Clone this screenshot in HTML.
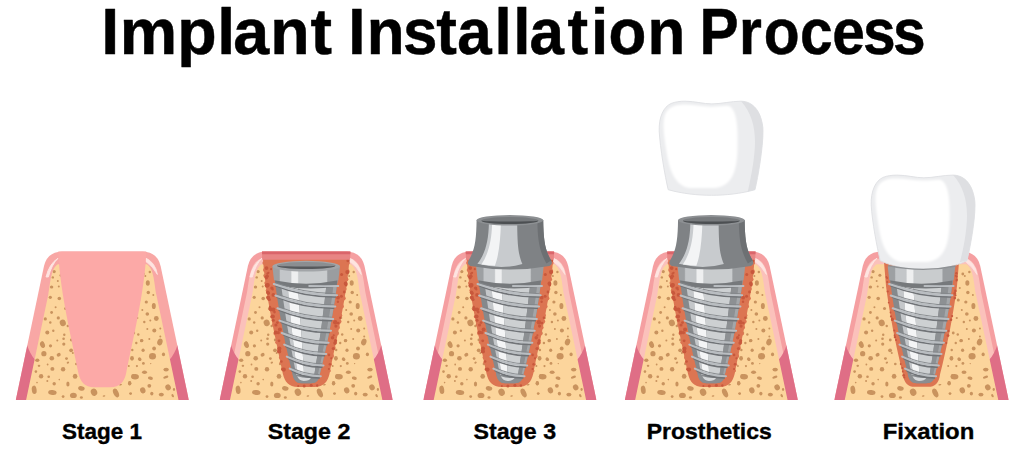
<!DOCTYPE html>
<html lang="en">
<head>
<meta charset="utf-8">
<title>Implant Installation Process</title>
<style>
  html, body { margin: 0; padding: 0; background: #ffffff; }
  body { width: 1024px; height: 451px; overflow: hidden; font-family: "Liberation Sans", sans-serif; }
  svg { display: block; }
  .title text { font-family: "Liberation Sans", sans-serif; font-weight: 700; font-size: 65.2px; fill: #000; stroke: #000; stroke-width: 0.5px; stroke-linejoin: round; }
  .label text { font-family: "Liberation Sans", sans-serif; font-weight: 700; font-size: 22.5px; fill: #000; stroke: #000; stroke-width: 0.35px; stroke-linejoin: round; }
</style>
</head>
<body>
<svg width="1024" height="451" viewBox="0 0 1024 451" role="img" aria-label="Implant Installation Process: Stage 1, Stage 2, Stage 3, Prosthetics, Fixation">
<rect width="1024" height="451" fill="#ffffff"/>

<defs>
  <filter id="soft" x="-10%" y="-10%" width="120%" height="120%"><feGaussianBlur stdDeviation="1.1"/></filter>
  <linearGradient id="gCollar" x1="0" x2="1" y1="0" y2="0">
    <stop offset="0" stop-color="#9da0a3"/>
    <stop offset="0.10" stop-color="#9da0a3"/>
    <stop offset="0.12" stop-color="#c3c6c9"/>
    <stop offset="0.27" stop-color="#c3c6c9"/>
    <stop offset="0.29" stop-color="#eeeff0"/>
    <stop offset="0.37" stop-color="#eeeff0"/>
    <stop offset="0.39" stop-color="#c9ccce"/>
    <stop offset="0.80" stop-color="#c9ccce"/>
    <stop offset="0.82" stop-color="#9a9da0"/>
    <stop offset="1" stop-color="#9a9da0"/>
  </linearGradient>
  <clipPath id="cBone"><path d="M10.3,400 L32.4,295 C34.4,285.5 34.6,268.5 42,264.3 L131,264.3 C138.4,268.5 138.6,285.5 140.6,295 L162.7,400 Z"/></clipPath>
  <clipPath id="cGum"><path id="pGum" d="M0,400 L28.2,266 Q31.5,252 46,251.5 L127,251.5 Q141.5,252 144.8,266 L173,400 Z"/></clipPath>

  <!-- gum: dark lower parts + corner highlights -->
  <g id="gumfx" clip-path="url(#cGum)">
    <path d="M-2,400 L10.5,343 Q14.5,355 19.5,360 L11,400 Z" fill="#df6e86"/>
    <path d="M175,400 L162.5,343 Q158.5,355 153.5,360 L162,400 Z" fill="#df6e86"/>
    <path d="M30.2,277 Q33.5,263.5 42.3,258.2 Q35.8,264.5 32.6,277 Z" fill="#fee4e1" stroke="#fee4e1" stroke-width="0.9" stroke-linejoin="round"/>
    <path d="M141.6,274.5 Q139.8,262.5 129.2,257.6 C128.6,259.6 129.6,261.6 131.5,262.8 Q136.5,266 141.6,274.5 Z" fill="#fee4e1" stroke="#fee4e1" stroke-width="0.8" stroke-linejoin="round"/>
  </g>
  <!-- bone with pores -->
  <g id="bone">
    <path d="M10.3,400 L32.4,295 C34.4,285.5 34.6,268.5 42,264.3 L131,264.3 C138.4,268.5 138.6,285.5 140.6,295 L162.7,400 Z" fill="#fcd59c"/>
    <g fill="#c9935e" clip-path="url(#cBone)">
<ellipse cx="26.7" cy="344.8" rx="2.4" ry="3.3" transform="rotate(-20 26.7 344.8)"/>
<ellipse cx="34.7" cy="345.8" rx="1.6" ry="1.6"/>
<ellipse cx="48.0" cy="344.1" rx="1.6" ry="1.6"/>
<ellipse cx="55.3" cy="350.3" rx="1.9" ry="1.9"/>
<ellipse cx="28.1" cy="353.7" rx="2.6" ry="2.6"/>
<ellipse cx="42.9" cy="354.8" rx="2.1" ry="1.8" transform="rotate(-30 42.9 354.8)"/>
<ellipse cx="36.0" cy="358.3" rx="2.3" ry="2.3"/>
<ellipse cx="21.5" cy="360.2" rx="2.1" ry="1.7"/>
<ellipse cx="50.7" cy="358.6" rx="1.4" ry="1.4"/>
<ellipse cx="52.1" cy="362.7" rx="1.3" ry="1.0" transform="rotate(-30 52.1 362.7)"/>
<ellipse cx="31.8" cy="364.5" rx="0.9" ry="0.9"/>
<ellipse cx="23.2" cy="365.8" rx="1.3" ry="1.1"/>
<ellipse cx="36.6" cy="368.9" rx="2.0" ry="1.9"/>
<ellipse cx="47.3" cy="369.3" rx="2.2" ry="2.2"/>
<ellipse cx="20.1" cy="371.6" rx="1.3" ry="1.3"/>
<ellipse cx="25.3" cy="376.2" rx="2.2" ry="2.3"/>
<ellipse cx="32.9" cy="376.8" rx="1.3" ry="1.3"/>
<ellipse cx="59.3" cy="376.2" rx="2.3" ry="2.5"/>
<ellipse cx="31.5" cy="381.0" rx="1.0" ry="1.0"/>
<ellipse cx="43.5" cy="379.6" rx="0.8" ry="0.8"/>
<ellipse cx="38.4" cy="383.7" rx="1.7" ry="1.7"/>
<ellipse cx="52.1" cy="384.0" rx="1.6" ry="2.6"/>
<ellipse cx="21.2" cy="382.6" rx="0.8" ry="0.8"/>
<ellipse cx="18.4" cy="389.8" rx="2.4" ry="4.2" transform="rotate(-8 18.4 389.8)"/>
<ellipse cx="36.6" cy="392.5" rx="4.3" ry="2.4" transform="rotate(8 36.6 392.5)"/>
<ellipse cx="65.6" cy="388.4" rx="3.3" ry="2.3" transform="rotate(10 65.6 388.4)"/>
<ellipse cx="57.6" cy="395.4" rx="3.4" ry="2.7"/>
<ellipse cx="78.2" cy="392.2" rx="3.2" ry="3.7" transform="rotate(-20 78.2 392.2)"/>
<ellipse cx="47.3" cy="396.6" rx="1.4" ry="1.4"/>
<ellipse cx="65.6" cy="397.5" rx="1.5" ry="1.3"/>
<ellipse cx="88.2" cy="396.0" rx="1.4" ry="0.7" transform="rotate(-15 88.2 396.0)"/>
<ellipse cx="100.2" cy="393.0" rx="2.6" ry="4.6" transform="rotate(-25 100.2 393.0)"/>
<ellipse cx="114.0" cy="383.3" rx="1.6" ry="2.0"/>
<ellipse cx="117.4" cy="376.4" rx="2.0" ry="2.4"/>
<ellipse cx="116.2" cy="358.3" rx="1.9" ry="2.4"/>
<ellipse cx="114.9" cy="393.6" rx="1.3" ry="1.1"/>
<ellipse cx="104.7" cy="384.7" rx="1.6" ry="0.7" transform="rotate(-10 104.7 384.7)"/>
<ellipse cx="125.7" cy="340.7" rx="1.6" ry="1.6"/>
<ellipse cx="144.1" cy="342.0" rx="2.6" ry="3.4" transform="rotate(20 144.1 342.0)"/>
<ellipse cx="138.3" cy="348.5" rx="1.9" ry="1.9"/>
<ellipse cx="127.3" cy="350.3" rx="1.6" ry="1.8"/>
<ellipse cx="136.7" cy="356.2" rx="3.5" ry="3.3"/>
<ellipse cx="147.7" cy="354.4" rx="1.6" ry="1.8"/>
<ellipse cx="123.9" cy="359.2" rx="1.9" ry="1.7" transform="rotate(40 123.9 359.2)"/>
<ellipse cx="127.6" cy="363.4" rx="1.4" ry="1.4"/>
<ellipse cx="121.1" cy="366.1" rx="1.1" ry="1.1"/>
<ellipse cx="134.9" cy="363.6" rx="0.7" ry="0.7"/>
<ellipse cx="150.3" cy="369.6" rx="2.7" ry="1.9"/>
<ellipse cx="128.7" cy="372.3" rx="2.5" ry="1.7"/>
<ellipse cx="119.3" cy="376.8" rx="3.8" ry="2.7"/>
<ellipse cx="134.6" cy="378.2" rx="2.5" ry="1.7" transform="rotate(10 134.6 378.2)"/>
<ellipse cx="150.0" cy="377.1" rx="2.7" ry="1.3" transform="rotate(-20 150.0 377.1)"/>
<ellipse cx="113.8" cy="383.3" rx="1.6" ry="2.2"/>
<ellipse cx="133.5" cy="385.8" rx="1.9" ry="1.9"/>
<ellipse cx="127.0" cy="390.4" rx="2.7" ry="3.0" transform="rotate(-20 127.0 390.4)"/>
<ellipse cx="152.3" cy="387.4" rx="2.7" ry="3.0" transform="rotate(-30 152.3 387.4)"/>
<ellipse cx="158.2" cy="389.5" rx="1.1" ry="1.4"/>
<ellipse cx="136.0" cy="393.6" rx="1.6" ry="1.9"/>
<ellipse cx="145.5" cy="394.6" rx="2.5" ry="1.9"/>
<ellipse cx="114.7" cy="393.6" rx="1.4" ry="1.1"/>
<ellipse cx="156.9" cy="395.7" rx="1.1" ry="1.7" transform="rotate(-30 156.9 395.7)"/>
<ellipse cx="45.2" cy="275.2" rx="1.5" ry="1.5"/>
<ellipse cx="48.3" cy="287.6" rx="0.9" ry="0.9"/>
<ellipse cx="49.8" cy="308.6" rx="1.5" ry="1.5"/>
<ellipse cx="52.0" cy="326.0" rx="1.2" ry="1.2"/>
<ellipse cx="55.5" cy="340.0" rx="1.4" ry="1.4"/>
<ellipse cx="57.0" cy="353.0" rx="1.0" ry="1.0"/>
<ellipse cx="60.5" cy="364.0" rx="1.3" ry="1.3"/>
<ellipse cx="127.5" cy="274.0" rx="1.4" ry="1.4"/>
<ellipse cx="124.5" cy="288.0" rx="1.0" ry="1.0"/>
<ellipse cx="123.0" cy="300.0" rx="1.5" ry="1.5"/>
<ellipse cx="121.5" cy="318.0" rx="1.1" ry="1.1"/>
<ellipse cx="118.0" cy="333.0" rx="1.4" ry="1.4"/>
<ellipse cx="116.5" cy="350.0" rx="1.2" ry="1.2"/>
<ellipse cx="113.0" cy="366.0" rx="1.0" ry="1.0"/>
<ellipse cx="38.4" cy="271.6" rx="1.6" ry="1.6"/>
<ellipse cx="37.0" cy="277.4" rx="1.2" ry="1.2"/>
<ellipse cx="42.0" cy="281.0" rx="1.0" ry="1.0"/>
<ellipse cx="35.8" cy="287.0" rx="1.7" ry="1.6"/>
<ellipse cx="43.0" cy="286.5" rx="1.0" ry="1.0"/>
<ellipse cx="34.5" cy="297.3" rx="1.6" ry="1.6"/>
<ellipse cx="43.5" cy="298.5" rx="1.8" ry="1.8"/>
<ellipse cx="39.8" cy="307.3" rx="1.0" ry="1.0"/>
<ellipse cx="35.8" cy="312.5" rx="1.4" ry="1.4"/>
<ellipse cx="29.5" cy="318.9" rx="1.6" ry="1.6"/>
<ellipse cx="42.5" cy="317.9" rx="1.6" ry="1.6"/>
<ellipse cx="47.0" cy="322.9" rx="3.0" ry="3.4" transform="rotate(-20 47.0 322.9)"/>
<ellipse cx="34.5" cy="322.5" rx="1.2" ry="1.2"/>
<ellipse cx="31.5" cy="332.4" rx="2.0" ry="2.0"/>
<ellipse cx="37.5" cy="330.8" rx="1.2" ry="1.2"/>
<ellipse cx="48.5" cy="334.8" rx="1.2" ry="1.2"/>
<ellipse cx="26.5" cy="342.4" rx="1.2" ry="1.2"/>
<ellipse cx="41.5" cy="340.4" rx="1.0" ry="1.0"/>
<ellipse cx="47.8" cy="338.8" rx="1.3" ry="1.3"/>
<ellipse cx="132.0" cy="283.0" rx="2.0" ry="2.8"/>
<ellipse cx="132.5" cy="292.5" rx="1.7" ry="1.7"/>
<ellipse cx="137.5" cy="295.0" rx="1.0" ry="1.0"/>
<ellipse cx="130.5" cy="302.0" rx="1.6" ry="1.6"/>
<ellipse cx="138.0" cy="306.0" rx="2.0" ry="3.1"/>
<ellipse cx="131.5" cy="314.0" rx="1.8" ry="1.8"/>
<ellipse cx="140.5" cy="318.5" rx="2.4" ry="2.4"/>
<ellipse cx="128.5" cy="322.0" rx="1.2" ry="1.2"/>
<ellipse cx="134.5" cy="320.5" rx="1.0" ry="1.0"/>
<ellipse cx="138.5" cy="330.5" rx="2.0" ry="2.0"/>
<ellipse cx="131.5" cy="329.0" rx="1.0" ry="1.0"/>
<ellipse cx="144.5" cy="328.5" rx="1.0" ry="1.0"/>
<ellipse cx="122.5" cy="334.5" rx="1.2" ry="1.2"/>
<ellipse cx="126.0" cy="340.5" rx="1.6" ry="1.6"/>
<ellipse cx="144.5" cy="336.5" rx="1.0" ry="1.0"/>
<ellipse cx="133.5" cy="339.0" rx="1.0" ry="1.0"/>
<ellipse cx="120.5" cy="343.0" rx="1.2" ry="1.2"/>
<ellipse cx="126.5" cy="310.0" rx="1.0" ry="1.0"/>
<ellipse cx="134.0" cy="272.0" rx="1.2" ry="1.2"/>
<ellipse cx="129.5" cy="276.0" rx="1.0" ry="1.0"/>
    </g>
  </g>
  <!-- stage 1 gum (plain) -->
  <g id="base1">
    <path d="M0,400 L28.2,266 Q31.5,252 46,251.5 L127,251.5 Q141.5,252 144.8,266 L173,400 Z" fill="#f8a7a5"/>
    <use href="#gumfx"/>
    <use href="#bone"/>
  </g>
  <!-- gum for the later stages: darker rim, lighter inner layer -->
  <g id="base">
    <path d="M0,400 L28.2,266 Q31.5,252 46,251.5 L127,251.5 Q141.5,252 144.8,266 L173,400 Z" fill="#f59fa1"/>
    <g clip-path="url(#cGum)">
      <path d="M10.3,400 L32.4,295 C34.4,285.5 34.6,268.5 42,264.3 L131,264.3 C138.4,268.5 138.6,285.5 140.6,295 L162.7,400" fill="none" stroke="#fbc1bb" stroke-width="11" stroke-linejoin="round"/>
    </g>
    <use href="#gumfx"/>
    <use href="#bone"/>
  </g>

  <!-- empty socket stage 1 -->
  <path id="sock1" d="M42.5,251.5 L130.5,251.5 L130.5,252 C129.0,292 116.4,342 110.2,374 C108.2,381.7 104.5,387.2 94.5,387.2 L78.5,387.2 C68.5,387.2 64.8,381.7 62.8,374 C56.6,342 44.0,292 42.5,252 Z" fill="#fca9a7"/>

  <!-- healed socket stage 5 -->
  <g id="sock5">
    <path d="M49.0,262 L124.0,262 L122.0,286.0 L120.8,294.8 L119.5,303.6 L118.0,312.4 L116.5,321.2 L114.9,330.0 L113.1,338.8 L111.3,347.6 L109.3,356.4 L107.3,365.2 L105.1,374.0 C104.1,383.5 99.5,386.8 93.5,386.8 L79.5,386.8 C73.5,386.8 68.9,383.5 67.9,374 L67.9,374.0 L65.7,365.2 L63.7,356.4 L61.7,347.6 L59.9,338.8 L58.1,330.0 L56.5,321.2 L55.0,312.4 L53.5,303.6 L52.2,294.8 L51.0,286.0 Z" fill="#dc7552"/>
    <g fill="#c8583c">
<circle cx="116.0" cy="319.8" r="1.3"/>
<circle cx="120.4" cy="290.9" r="1.3"/>
<circle cx="121.6" cy="280.4" r="1.1"/>
<circle cx="67.3" cy="367.9" r="1.0"/>
<circle cx="57.2" cy="319.8" r="1.3"/>
<circle cx="51.4" cy="276.9" r="0.9"/>
<circle cx="121.4" cy="273.3" r="1.2"/>
<circle cx="52.7" cy="291.5" r="1.1"/>
<circle cx="111.3" cy="342.9" r="1.0"/>
<circle cx="59.3" cy="330.6" r="1.0"/>
<circle cx="120.5" cy="295.3" r="1.1"/>
<circle cx="52.2" cy="281.9" r="1.0"/>
<circle cx="68.7" cy="375.4" r="1.4"/>
<circle cx="120.6" cy="275.8" r="1.0"/>
<circle cx="52.1" cy="278.0" r="1.0"/>
<circle cx="121.8" cy="279.6" r="1.0"/>
<circle cx="67.8" cy="371.5" r="0.9"/>
<circle cx="121.6" cy="276.6" r="1.1"/>
<circle cx="57.5" cy="319.2" r="1.3"/>
<circle cx="117.1" cy="316.1" r="1.1"/>
<circle cx="119.8" cy="293.4" r="1.4"/>
<circle cx="59.6" cy="335.2" r="1.0"/>
<circle cx="65.7" cy="364.0" r="0.9"/>
<circle cx="57.1" cy="318.6" r="1.0"/>
<circle cx="53.7" cy="302.6" r="0.9"/>
<circle cx="61.0" cy="340.0" r="1.0"/>
<circle cx="115.6" cy="319.9" r="0.9"/>
<circle cx="55.5" cy="312.5" r="0.9"/>
<circle cx="59.9" cy="337.1" r="1.2"/>
<circle cx="113.4" cy="330.9" r="1.2"/>
<circle cx="56.0" cy="316.4" r="1.1"/>
<circle cx="119.8" cy="298.1" r="1.3"/>
<circle cx="113.0" cy="335.6" r="1.4"/>
<circle cx="69.3" cy="377.5" r="1.1"/>
    </g>
  </g>

  <!-- drilled socket stages 2-4 -->
  <g id="sock">
    <path d="M42.9,258 L130.1,258 L130.1,252 C128.6,292 116.0,342 109.8,374 C107.8,381.5 104.5,387 94.5,387 L78.5,387 C68.5,387 65.2,381.5 63.2,374 C57.0,342 44.4,292 42.9,252 Z" fill="#dc7552"/>
    <g fill="#dc7552">
<circle cx="44.4" cy="263.0" r="1.7"/>
<circle cx="45.3" cy="270.1" r="2.0"/>
<circle cx="45.4" cy="276.1" r="1.5"/>
<circle cx="46.3" cy="282.9" r="1.7"/>
<circle cx="48.2" cy="290.6" r="2.2"/>
<circle cx="48.9" cy="299.0" r="1.6"/>
<circle cx="50.8" cy="308.2" r="1.9"/>
<circle cx="52.0" cy="316.7" r="1.6"/>
<circle cx="54.1" cy="324.7" r="1.7"/>
<circle cx="55.7" cy="333.6" r="1.9"/>
<circle cx="57.6" cy="342.3" r="2.1"/>
<circle cx="59.4" cy="349.1" r="2.1"/>
<circle cx="61.4" cy="357.4" r="2.2"/>
<circle cx="61.5" cy="362.8" r="1.7"/>
<circle cx="63.4" cy="368.8" r="2.0"/>
<circle cx="128.4" cy="263.0" r="1.8"/>
<circle cx="127.8" cy="270.9" r="2.0"/>
<circle cx="126.5" cy="279.3" r="2.2"/>
<circle cx="125.0" cy="289.0" r="2.0"/>
<circle cx="123.7" cy="298.2" r="2.3"/>
<circle cx="122.1" cy="306.4" r="2.1"/>
<circle cx="120.6" cy="315.4" r="2.0"/>
<circle cx="119.6" cy="321.5" r="2.2"/>
<circle cx="118.1" cy="327.5" r="2.1"/>
<circle cx="117.4" cy="333.7" r="1.7"/>
<circle cx="115.7" cy="342.4" r="1.5"/>
<circle cx="113.9" cy="347.9" r="2.1"/>
<circle cx="112.0" cy="356.1" r="2.3"/>
<circle cx="110.6" cy="364.3" r="1.7"/>
<circle cx="109.6" cy="370.7" r="1.5"/>
    </g>
    <g fill="#c8583c">
<circle cx="48.4" cy="297.5" r="2.0"/>
<circle cx="51.4" cy="269.2" r="1.1"/>
<circle cx="51.0" cy="309.2" r="2.0"/>
<circle cx="48.7" cy="272.8" r="1.1"/>
<circle cx="60.2" cy="329.5" r="2.0"/>
<circle cx="48.6" cy="293.2" r="1.7"/>
<circle cx="59.3" cy="340.8" r="1.4"/>
<circle cx="56.2" cy="325.0" r="1.6"/>
<circle cx="118.5" cy="323.1" r="1.4"/>
<circle cx="52.2" cy="288.1" r="1.7"/>
<circle cx="115.5" cy="322.3" r="2.2"/>
<circle cx="127.7" cy="272.1" r="2.1"/>
<circle cx="53.6" cy="309.6" r="2.1"/>
<circle cx="121.7" cy="296.2" r="1.5"/>
<circle cx="111.6" cy="358.3" r="1.1"/>
<circle cx="115.3" cy="343.1" r="1.8"/>
<circle cx="128.3" cy="260.7" r="1.6"/>
<circle cx="126.3" cy="284.4" r="1.5"/>
<circle cx="61.7" cy="361.5" r="1.3"/>
<circle cx="121.9" cy="274.4" r="1.5"/>
<circle cx="118.2" cy="301.8" r="1.2"/>
<circle cx="47.9" cy="286.1" r="1.2"/>
<circle cx="48.1" cy="292.3" r="1.7"/>
<circle cx="64.1" cy="369.6" r="2.1"/>
<circle cx="115.8" cy="340.7" r="1.6"/>
<circle cx="50.3" cy="307.0" r="1.2"/>
<circle cx="49.6" cy="299.5" r="1.6"/>
<circle cx="62.9" cy="369.2" r="1.5"/>
<circle cx="114.0" cy="335.3" r="1.1"/>
<circle cx="120.5" cy="317.8" r="1.2"/>
<circle cx="113.6" cy="348.5" r="1.6"/>
<circle cx="126.0" cy="282.8" r="1.0"/>
<circle cx="57.7" cy="322.6" r="1.4"/>
<circle cx="46.8" cy="278.1" r="1.4"/>
<circle cx="48.2" cy="285.0" r="1.9"/>
<circle cx="126.5" cy="285.4" r="1.0"/>
<circle cx="124.6" cy="292.0" r="1.4"/>
<circle cx="109.2" cy="354.9" r="1.3"/>
<circle cx="47.2" cy="285.5" r="2.2"/>
<circle cx="56.0" cy="332.5" r="2.0"/>
<circle cx="46.8" cy="268.1" r="1.9"/>
<circle cx="52.8" cy="316.5" r="1.1"/>
<circle cx="109.2" cy="369.0" r="1.1"/>
<circle cx="46.3" cy="277.1" r="1.6"/>
<circle cx="112.8" cy="337.8" r="1.7"/>
<circle cx="47.7" cy="273.7" r="1.1"/>
<circle cx="59.7" cy="348.5" r="2.0"/>
<circle cx="126.0" cy="283.5" r="1.9"/>
<circle cx="118.3" cy="297.7" r="1.9"/>
<circle cx="110.1" cy="364.2" r="1.2"/>
<circle cx="47.5" cy="276.2" r="1.7"/>
<circle cx="59.6" cy="351.4" r="1.9"/>
<circle cx="116.2" cy="326.1" r="1.6"/>
<circle cx="59.3" cy="351.4" r="1.9"/>
<circle cx="53.6" cy="320.2" r="1.5"/>
<circle cx="58.6" cy="332.7" r="1.6"/>
<circle cx="53.1" cy="316.5" r="2.1"/>
<circle cx="53.0" cy="289.5" r="1.1"/>
<circle cx="54.8" cy="312.1" r="1.3"/>
<circle cx="53.7" cy="294.9" r="1.9"/>
<circle cx="78.5" cy="385.9" r="1.0"/>
<circle cx="84.5" cy="386.1" r="1.5"/>
<circle cx="91.5" cy="385.3" r="1.5"/>
<circle cx="97.5" cy="385.5" r="1.2"/>
    </g>
  </g>
</defs>

<g class="title">
<text transform="scale(0.99 1)" x="102.24 121.03 178.99 219.47 235.51 273.03 313.68" y="54.2">Implant</text>
<text transform="scale(0.95 1)" x="366.51 386.05 424.27 459.19 481.24 520.56 540.30 557.39 597.40 622.09 640.64 681.69" y="54.2">Installation</text>
<text transform="scale(0.9 1)" x="777.18 820.99 848.56 888.86 924.64 958.83 992.35" y="54.2">Process</text>
</g>
<g class="label">
<text x="61.93" y="438.9" textLength="79.99" lengthAdjust="spacingAndGlyphs">Stage 1</text>
<text x="267.70" y="438.9" textLength="82.68" lengthAdjust="spacingAndGlyphs">Stage 2</text>
<text x="473.50" y="438.9" textLength="82.56" lengthAdjust="spacingAndGlyphs">Stage 3</text>
<text x="646.71" y="438.9" textLength="125.04" lengthAdjust="spacingAndGlyphs">Prosthetics</text>
<text x="882.65" y="438.9" textLength="91.67" lengthAdjust="spacingAndGlyphs">Fixation</text>
</g>
<g transform="translate(15.8 0)">
<use href="#base1"/>
<use href="#sock1"/>
</g><g transform="translate(219.7 0)">
<use href="#base"/>
<use href="#sock"/>
<path d="M42.3,251.5 L130.7,251.5 L130.4,259.8 L42.6,259.8 Z" fill="#e88584"/>
<path d="M42.3,251.5 L130.7,251.5 L130.6,254.2 L42.4,254.2 Z" fill="#da656b"/>
<path d="M54.9,279.0 L56.0,287.0 L57.1,295.0 L58.3,303.0 L59.6,311.0 L61.0,319.0 L62.5,327.0 L64.0,335.0 L65.6,343.0 L67.4,351.0 L69.2,359.0 L71.1,367.0 L73.1,375.0 C74.3,381 77.5,383.2 81.5,383.2 L91.5,383.2 C95.5,383.2 98.7,381 99.9,375.0 L99.9,375.0 L101.9,367.0 L103.8,359.0 L105.6,351.0 L107.4,343.0 L109.0,335.0 L110.5,327.0 L112.0,319.0 L113.4,311.0 L114.7,303.0 L115.9,295.0 L117.0,287.0 L118.1,279.0 Z" fill="#85898c"/>
<path d="M60.6,279.0 L61.7,287.0 L62.8,295.0 L64.0,303.0 L65.2,311.0 L66.4,319.0 L67.7,327.0 L69.1,335.0 L70.5,343.0 L72.0,351.0 L73.5,359.0 L75.0,367.0 L76.6,375.0 L78.2,375.0 L77.0,367.0 L75.8,359.0 L74.7,351.0 L73.7,343.0 L72.7,335.0 L71.8,327.0 L71.0,319.0 L70.2,311.0 L69.5,303.0 L68.8,295.0 L68.2,287.0 L67.6,279.0 Z" fill="#c4c7ca"/>
<path d="M67.6,279.0 L68.2,287.0 L68.8,295.0 L69.5,303.0 L70.2,311.0 L71.0,319.0 L71.8,327.0 L72.7,335.0 L73.7,343.0 L74.7,351.0 L75.8,359.0 L77.0,367.0 L78.2,375.0 L84.4,375.0 L83.9,367.0 L83.4,359.0 L82.9,351.0 L82.3,343.0 L81.8,335.0 L81.2,327.0 L80.6,319.0 L80.0,311.0 L79.5,303.0 L78.9,295.0 L78.3,287.0 L77.7,279.0 Z" fill="#f4f5f6"/>
<path d="M77.7,279.0 L78.3,287.0 L78.9,295.0 L79.5,303.0 L80.0,311.0 L80.6,319.0 L81.2,327.0 L81.8,335.0 L82.3,343.0 L82.9,351.0 L83.4,359.0 L83.9,367.0 L84.4,375.0 L94.6,375.0 L95.8,367.0 L97.1,359.0 L98.3,351.0 L99.4,343.0 L100.6,335.0 L101.7,327.0 L102.7,319.0 L103.7,311.0 L104.7,303.0 L105.6,295.0 L106.5,287.0 L107.3,279.0 Z" fill="#cdd0d2"/>
<path d="M107.3,279.0 L106.5,287.0 L105.6,295.0 L104.7,303.0 L103.7,311.0 L102.7,319.0 L101.7,327.0 L100.6,335.0 L99.4,343.0 L98.3,351.0 L97.1,359.0 L95.8,367.0 L94.6,375.0 L98.0,375.0 L99.8,367.0 L101.5,359.0 L103.1,351.0 L104.6,343.0 L106.1,335.0 L107.5,327.0 L108.9,319.0 L110.2,311.0 L111.4,303.0 L112.5,295.0 L113.5,287.0 L114.6,279.0 Z" fill="#8d9093"/>
<path d="M114.6,279.0 L113.5,287.0 L112.5,295.0 L111.4,303.0 L110.2,311.0 L108.9,319.0 L107.5,327.0 L106.1,335.0 L104.6,343.0 L103.1,351.0 L101.5,359.0 L99.8,367.0 L98.0,375.0 L99.9,375.0 L101.9,367.0 L103.8,359.0 L105.6,351.0 L107.4,343.0 L109.0,335.0 L110.5,327.0 L112.0,319.0 L113.4,311.0 L114.7,303.0 L115.9,295.0 L117.0,287.0 L118.1,279.0 Z" fill="#a3a6a9"/>
<path d="M72.6,373 Q86.5,381 99.7,376.5 C98.7,381.5 95.5,383.2 91.5,383.2 L81.5,383.2 C77.5,383.2 73.6,381 72.6,373 Z" fill="#8b8e91"/>
<path d="M77.5,376.2 Q84.5,378.6 91.5,377.8 Q89.5,381 84.0,381 Q79.5,380.6 77.5,376.2 Z" fill="#d6d8da"/>
<path d="M55.4,280 L117.6,280 L117.1,286.5 Q86.5,291 55.9,285 Z" fill="#76797c"/>
<path d="M89.5,286.0 Q104.5,286.2 118.6,286.0" fill="none" stroke="#b9bdc1" stroke-width="1.9" stroke-linecap="round"/>
<path d="M55.9,282.8 C73.1,289.3 95.8,293.6 115.9,293.7" fill="none" stroke="#83868a" stroke-width="1.1" opacity="0.9"/>
<path d="M55.3,285.6 C73.1,292.9 95.8,297.2 116.3,297.0" fill="none" stroke="#707377" stroke-width="1.6"/>
<path d="M54.1,284.0 C73.1,291.0 95.8,295.3 117.3,295.3" fill="none" stroke="#b9bdc1" stroke-width="2.0" stroke-linecap="round"/>
<path d="M57.5,294.3 C73.7,300.6 95.2,304.8 114.2,304.9" fill="none" stroke="#83868a" stroke-width="1.1" opacity="0.9"/>
<path d="M56.9,297.1 C73.7,304.2 95.2,308.4 114.6,308.2" fill="none" stroke="#707377" stroke-width="1.6"/>
<path d="M55.7,295.5 C73.7,302.3 95.2,306.5 115.6,306.5" fill="none" stroke="#b9bdc1" stroke-width="2.0" stroke-linecap="round"/>
<path d="M59.5,307.1 C74.4,313.2 94.5,317.2 112.1,317.3" fill="none" stroke="#83868a" stroke-width="1.1" opacity="0.9"/>
<path d="M58.9,309.9 C74.4,316.8 94.5,320.8 112.5,320.6" fill="none" stroke="#707377" stroke-width="1.6"/>
<path d="M57.7,308.3 C74.4,314.9 94.5,318.9 113.5,318.9" fill="none" stroke="#b9bdc1" stroke-width="2.0" stroke-linecap="round"/>
<path d="M61.6,319.4 C75.2,325.2 93.8,329.1 109.9,329.2" fill="none" stroke="#83868a" stroke-width="1.1" opacity="0.9"/>
<path d="M61.0,322.2 C75.2,328.8 93.8,332.7 110.3,332.5" fill="none" stroke="#707377" stroke-width="1.6"/>
<path d="M59.8,320.6 C75.2,326.9 93.8,330.8 111.3,330.8" fill="none" stroke="#b9bdc1" stroke-width="2.0" stroke-linecap="round"/>
<path d="M63.9,331.8 C76.1,337.4 93.0,341.1 107.5,341.2" fill="none" stroke="#83868a" stroke-width="1.1" opacity="0.9"/>
<path d="M63.3,334.6 C76.1,341.0 93.0,344.7 107.9,344.5" fill="none" stroke="#707377" stroke-width="1.6"/>
<path d="M62.1,333.0 C76.1,339.1 93.0,342.8 108.9,342.8" fill="none" stroke="#b9bdc1" stroke-width="2.0" stroke-linecap="round"/>
<path d="M66.3,343.4 C77.1,348.7 92.2,352.2 105.1,352.3" fill="none" stroke="#83868a" stroke-width="1.1" opacity="0.9"/>
<path d="M65.7,346.2 C77.1,352.3 92.2,355.8 105.5,355.6" fill="none" stroke="#707377" stroke-width="1.6"/>
<path d="M64.5,344.6 C77.1,350.4 92.2,353.9 106.5,353.9" fill="none" stroke="#b9bdc1" stroke-width="2.0" stroke-linecap="round"/>
<path d="M68.9,355.4 C78.1,360.3 91.3,363.7 102.4,363.8" fill="none" stroke="#83868a" stroke-width="1.1" opacity="0.9"/>
<path d="M68.3,358.2 C78.1,363.9 91.3,367.3 102.8,367.1" fill="none" stroke="#707377" stroke-width="1.6"/>
<path d="M67.1,356.6 C78.1,362.0 91.3,365.4 103.8,365.4" fill="none" stroke="#b9bdc1" stroke-width="2.0" stroke-linecap="round"/>
<path d="M71.8,367.4 C79.3,371.6 90.5,374.5 99.7,374.6" fill="none" stroke="#83868a" stroke-width="1.1" opacity="0.9"/>
<path d="M71.2,370.2 C79.3,375.2 90.5,378.1 100.1,377.9" fill="none" stroke="#707377" stroke-width="1.6"/>
<path d="M70.0,368.6 C79.3,373.3 90.5,376.2 101.1,376.2" fill="none" stroke="#b9bdc1" stroke-width="2.0" stroke-linecap="round"/>
<path d="M52.7,266.2 L120.3,266.2 L118.7,280.3 Q86.5,287 54.3,280.3 Z" fill="url(#gCollar)"/>
<ellipse cx="86.5" cy="266.2" rx="33.8" ry="5.4" fill="#a2a5a8"/>
<ellipse cx="86.5" cy="265.6" rx="29.3" ry="3.5" fill="#8b8e91"/>
<path d="M57.2,265.6 A29.3,3.5 0 0 0 115.8,265.6 A29.3,0.9 0 0 1 57.2,265.6 Z" fill="#56595c"/>
</g><g transform="translate(423.4 0)">
<use href="#base"/>
<use href="#sock"/>
<path d="M42.3,251.5 L130.7,251.5 L130.4,259.8 L42.6,259.8 Z" fill="#e88584"/>
<path d="M42.3,251.5 L130.7,251.5 L130.6,254.2 L42.4,254.2 Z" fill="#da656b"/>
<path d="M54.9,279.0 L56.0,287.0 L57.1,295.0 L58.3,303.0 L59.6,311.0 L61.0,319.0 L62.5,327.0 L64.0,335.0 L65.6,343.0 L67.4,351.0 L69.2,359.0 L71.1,367.0 L73.1,375.0 C74.3,381 77.5,383.2 81.5,383.2 L91.5,383.2 C95.5,383.2 98.7,381 99.9,375.0 L99.9,375.0 L101.9,367.0 L103.8,359.0 L105.6,351.0 L107.4,343.0 L109.0,335.0 L110.5,327.0 L112.0,319.0 L113.4,311.0 L114.7,303.0 L115.9,295.0 L117.0,287.0 L118.1,279.0 Z" fill="#85898c"/>
<path d="M60.6,279.0 L61.7,287.0 L62.8,295.0 L64.0,303.0 L65.2,311.0 L66.4,319.0 L67.7,327.0 L69.1,335.0 L70.5,343.0 L72.0,351.0 L73.5,359.0 L75.0,367.0 L76.6,375.0 L78.2,375.0 L77.0,367.0 L75.8,359.0 L74.7,351.0 L73.7,343.0 L72.7,335.0 L71.8,327.0 L71.0,319.0 L70.2,311.0 L69.5,303.0 L68.8,295.0 L68.2,287.0 L67.6,279.0 Z" fill="#c4c7ca"/>
<path d="M67.6,279.0 L68.2,287.0 L68.8,295.0 L69.5,303.0 L70.2,311.0 L71.0,319.0 L71.8,327.0 L72.7,335.0 L73.7,343.0 L74.7,351.0 L75.8,359.0 L77.0,367.0 L78.2,375.0 L84.4,375.0 L83.9,367.0 L83.4,359.0 L82.9,351.0 L82.3,343.0 L81.8,335.0 L81.2,327.0 L80.6,319.0 L80.0,311.0 L79.5,303.0 L78.9,295.0 L78.3,287.0 L77.7,279.0 Z" fill="#f4f5f6"/>
<path d="M77.7,279.0 L78.3,287.0 L78.9,295.0 L79.5,303.0 L80.0,311.0 L80.6,319.0 L81.2,327.0 L81.8,335.0 L82.3,343.0 L82.9,351.0 L83.4,359.0 L83.9,367.0 L84.4,375.0 L94.6,375.0 L95.8,367.0 L97.1,359.0 L98.3,351.0 L99.4,343.0 L100.6,335.0 L101.7,327.0 L102.7,319.0 L103.7,311.0 L104.7,303.0 L105.6,295.0 L106.5,287.0 L107.3,279.0 Z" fill="#cdd0d2"/>
<path d="M107.3,279.0 L106.5,287.0 L105.6,295.0 L104.7,303.0 L103.7,311.0 L102.7,319.0 L101.7,327.0 L100.6,335.0 L99.4,343.0 L98.3,351.0 L97.1,359.0 L95.8,367.0 L94.6,375.0 L98.0,375.0 L99.8,367.0 L101.5,359.0 L103.1,351.0 L104.6,343.0 L106.1,335.0 L107.5,327.0 L108.9,319.0 L110.2,311.0 L111.4,303.0 L112.5,295.0 L113.5,287.0 L114.6,279.0 Z" fill="#8d9093"/>
<path d="M114.6,279.0 L113.5,287.0 L112.5,295.0 L111.4,303.0 L110.2,311.0 L108.9,319.0 L107.5,327.0 L106.1,335.0 L104.6,343.0 L103.1,351.0 L101.5,359.0 L99.8,367.0 L98.0,375.0 L99.9,375.0 L101.9,367.0 L103.8,359.0 L105.6,351.0 L107.4,343.0 L109.0,335.0 L110.5,327.0 L112.0,319.0 L113.4,311.0 L114.7,303.0 L115.9,295.0 L117.0,287.0 L118.1,279.0 Z" fill="#a3a6a9"/>
<path d="M72.6,373 Q86.5,381 99.7,376.5 C98.7,381.5 95.5,383.2 91.5,383.2 L81.5,383.2 C77.5,383.2 73.6,381 72.6,373 Z" fill="#8b8e91"/>
<path d="M77.5,376.2 Q84.5,378.6 91.5,377.8 Q89.5,381 84.0,381 Q79.5,380.6 77.5,376.2 Z" fill="#d6d8da"/>
<path d="M55.4,280 L117.6,280 L117.1,286.5 Q86.5,291 55.9,285 Z" fill="#76797c"/>
<path d="M89.5,286.0 Q104.5,286.2 118.6,286.0" fill="none" stroke="#b9bdc1" stroke-width="1.9" stroke-linecap="round"/>
<path d="M55.9,282.8 C73.1,289.3 95.8,293.6 115.9,293.7" fill="none" stroke="#83868a" stroke-width="1.1" opacity="0.9"/>
<path d="M55.3,285.6 C73.1,292.9 95.8,297.2 116.3,297.0" fill="none" stroke="#707377" stroke-width="1.6"/>
<path d="M54.1,284.0 C73.1,291.0 95.8,295.3 117.3,295.3" fill="none" stroke="#b9bdc1" stroke-width="2.0" stroke-linecap="round"/>
<path d="M57.5,294.3 C73.7,300.6 95.2,304.8 114.2,304.9" fill="none" stroke="#83868a" stroke-width="1.1" opacity="0.9"/>
<path d="M56.9,297.1 C73.7,304.2 95.2,308.4 114.6,308.2" fill="none" stroke="#707377" stroke-width="1.6"/>
<path d="M55.7,295.5 C73.7,302.3 95.2,306.5 115.6,306.5" fill="none" stroke="#b9bdc1" stroke-width="2.0" stroke-linecap="round"/>
<path d="M59.5,307.1 C74.4,313.2 94.5,317.2 112.1,317.3" fill="none" stroke="#83868a" stroke-width="1.1" opacity="0.9"/>
<path d="M58.9,309.9 C74.4,316.8 94.5,320.8 112.5,320.6" fill="none" stroke="#707377" stroke-width="1.6"/>
<path d="M57.7,308.3 C74.4,314.9 94.5,318.9 113.5,318.9" fill="none" stroke="#b9bdc1" stroke-width="2.0" stroke-linecap="round"/>
<path d="M61.6,319.4 C75.2,325.2 93.8,329.1 109.9,329.2" fill="none" stroke="#83868a" stroke-width="1.1" opacity="0.9"/>
<path d="M61.0,322.2 C75.2,328.8 93.8,332.7 110.3,332.5" fill="none" stroke="#707377" stroke-width="1.6"/>
<path d="M59.8,320.6 C75.2,326.9 93.8,330.8 111.3,330.8" fill="none" stroke="#b9bdc1" stroke-width="2.0" stroke-linecap="round"/>
<path d="M63.9,331.8 C76.1,337.4 93.0,341.1 107.5,341.2" fill="none" stroke="#83868a" stroke-width="1.1" opacity="0.9"/>
<path d="M63.3,334.6 C76.1,341.0 93.0,344.7 107.9,344.5" fill="none" stroke="#707377" stroke-width="1.6"/>
<path d="M62.1,333.0 C76.1,339.1 93.0,342.8 108.9,342.8" fill="none" stroke="#b9bdc1" stroke-width="2.0" stroke-linecap="round"/>
<path d="M66.3,343.4 C77.1,348.7 92.2,352.2 105.1,352.3" fill="none" stroke="#83868a" stroke-width="1.1" opacity="0.9"/>
<path d="M65.7,346.2 C77.1,352.3 92.2,355.8 105.5,355.6" fill="none" stroke="#707377" stroke-width="1.6"/>
<path d="M64.5,344.6 C77.1,350.4 92.2,353.9 106.5,353.9" fill="none" stroke="#b9bdc1" stroke-width="2.0" stroke-linecap="round"/>
<path d="M68.9,355.4 C78.1,360.3 91.3,363.7 102.4,363.8" fill="none" stroke="#83868a" stroke-width="1.1" opacity="0.9"/>
<path d="M68.3,358.2 C78.1,363.9 91.3,367.3 102.8,367.1" fill="none" stroke="#707377" stroke-width="1.6"/>
<path d="M67.1,356.6 C78.1,362.0 91.3,365.4 103.8,365.4" fill="none" stroke="#b9bdc1" stroke-width="2.0" stroke-linecap="round"/>
<path d="M71.8,367.4 C79.3,371.6 90.5,374.5 99.7,374.6" fill="none" stroke="#83868a" stroke-width="1.1" opacity="0.9"/>
<path d="M71.2,370.2 C79.3,375.2 90.5,378.1 100.1,377.9" fill="none" stroke="#707377" stroke-width="1.6"/>
<path d="M70.0,368.6 C79.3,373.3 90.5,376.2 101.1,376.2" fill="none" stroke="#b9bdc1" stroke-width="2.0" stroke-linecap="round"/>
<path d="M52.7,266.2 L120.3,266.2 L118.7,280.3 Q86.5,287 54.3,280.3 Z" fill="url(#gCollar)"/>
<path d="M53.2,220 C52.9,240 51.5,250 45.2,260.5 C43.9,263 44.5,265 47.0,266 Q86.5,273.2 126.0,266 C128.5,265 129.1,263 127.8,260.5 C121.5,250 120.1,240 119.8,220 Z" fill="#7f8285"/>
<path d="M114.0,222 C114.3,240 116.0,251 123.0,263.5 L127.8,260.5 C121.5,250 120.1,240 119.8,220 Z" fill="#6d7073"/>
<path d="M65.5,224 L93.8,224 C94.0,245 95.0,255 99.0,264 Q78.5,270 54.0,263.8 C62.5,253 65.0,240 65.5,224 Z" fill="#c8cbce"/>
<path d="M68.7,224 L77.5,224 C77.0,240 75.5,255 71.5,265.8 L58.0,264.6 C65.5,253 68.2,240 68.7,224 Z" fill="#f3f4f5"/>
<ellipse cx="86.5" cy="220.3" rx="33.4" ry="5.3" fill="#8d9093"/>
<ellipse cx="86.5" cy="220.6" rx="28.5" ry="3.5" fill="#777a7d"/>
<path d="M58.0,220.6 A28.5,3.5 0 0 0 115.0,220.6 A28.5,0.9 0 0 1 58.0,220.6 Z" fill="#4c4f52"/>
</g><g transform="translate(624.85 0)">
<use href="#base"/>
<use href="#sock"/>
<path d="M42.3,251.5 L130.7,251.5 L130.4,259.8 L42.6,259.8 Z" fill="#e88584"/>
<path d="M42.3,251.5 L130.7,251.5 L130.6,254.2 L42.4,254.2 Z" fill="#da656b"/>
<path d="M54.9,279.0 L56.0,287.0 L57.1,295.0 L58.3,303.0 L59.6,311.0 L61.0,319.0 L62.5,327.0 L64.0,335.0 L65.6,343.0 L67.4,351.0 L69.2,359.0 L71.1,367.0 L73.1,375.0 C74.3,381 77.5,383.2 81.5,383.2 L91.5,383.2 C95.5,383.2 98.7,381 99.9,375.0 L99.9,375.0 L101.9,367.0 L103.8,359.0 L105.6,351.0 L107.4,343.0 L109.0,335.0 L110.5,327.0 L112.0,319.0 L113.4,311.0 L114.7,303.0 L115.9,295.0 L117.0,287.0 L118.1,279.0 Z" fill="#85898c"/>
<path d="M60.6,279.0 L61.7,287.0 L62.8,295.0 L64.0,303.0 L65.2,311.0 L66.4,319.0 L67.7,327.0 L69.1,335.0 L70.5,343.0 L72.0,351.0 L73.5,359.0 L75.0,367.0 L76.6,375.0 L78.2,375.0 L77.0,367.0 L75.8,359.0 L74.7,351.0 L73.7,343.0 L72.7,335.0 L71.8,327.0 L71.0,319.0 L70.2,311.0 L69.5,303.0 L68.8,295.0 L68.2,287.0 L67.6,279.0 Z" fill="#c4c7ca"/>
<path d="M67.6,279.0 L68.2,287.0 L68.8,295.0 L69.5,303.0 L70.2,311.0 L71.0,319.0 L71.8,327.0 L72.7,335.0 L73.7,343.0 L74.7,351.0 L75.8,359.0 L77.0,367.0 L78.2,375.0 L84.4,375.0 L83.9,367.0 L83.4,359.0 L82.9,351.0 L82.3,343.0 L81.8,335.0 L81.2,327.0 L80.6,319.0 L80.0,311.0 L79.5,303.0 L78.9,295.0 L78.3,287.0 L77.7,279.0 Z" fill="#f4f5f6"/>
<path d="M77.7,279.0 L78.3,287.0 L78.9,295.0 L79.5,303.0 L80.0,311.0 L80.6,319.0 L81.2,327.0 L81.8,335.0 L82.3,343.0 L82.9,351.0 L83.4,359.0 L83.9,367.0 L84.4,375.0 L94.6,375.0 L95.8,367.0 L97.1,359.0 L98.3,351.0 L99.4,343.0 L100.6,335.0 L101.7,327.0 L102.7,319.0 L103.7,311.0 L104.7,303.0 L105.6,295.0 L106.5,287.0 L107.3,279.0 Z" fill="#cdd0d2"/>
<path d="M107.3,279.0 L106.5,287.0 L105.6,295.0 L104.7,303.0 L103.7,311.0 L102.7,319.0 L101.7,327.0 L100.6,335.0 L99.4,343.0 L98.3,351.0 L97.1,359.0 L95.8,367.0 L94.6,375.0 L98.0,375.0 L99.8,367.0 L101.5,359.0 L103.1,351.0 L104.6,343.0 L106.1,335.0 L107.5,327.0 L108.9,319.0 L110.2,311.0 L111.4,303.0 L112.5,295.0 L113.5,287.0 L114.6,279.0 Z" fill="#8d9093"/>
<path d="M114.6,279.0 L113.5,287.0 L112.5,295.0 L111.4,303.0 L110.2,311.0 L108.9,319.0 L107.5,327.0 L106.1,335.0 L104.6,343.0 L103.1,351.0 L101.5,359.0 L99.8,367.0 L98.0,375.0 L99.9,375.0 L101.9,367.0 L103.8,359.0 L105.6,351.0 L107.4,343.0 L109.0,335.0 L110.5,327.0 L112.0,319.0 L113.4,311.0 L114.7,303.0 L115.9,295.0 L117.0,287.0 L118.1,279.0 Z" fill="#a3a6a9"/>
<path d="M72.6,373 Q86.5,381 99.7,376.5 C98.7,381.5 95.5,383.2 91.5,383.2 L81.5,383.2 C77.5,383.2 73.6,381 72.6,373 Z" fill="#8b8e91"/>
<path d="M77.5,376.2 Q84.5,378.6 91.5,377.8 Q89.5,381 84.0,381 Q79.5,380.6 77.5,376.2 Z" fill="#d6d8da"/>
<path d="M55.4,280 L117.6,280 L117.1,286.5 Q86.5,291 55.9,285 Z" fill="#76797c"/>
<path d="M89.5,286.0 Q104.5,286.2 118.6,286.0" fill="none" stroke="#b9bdc1" stroke-width="1.9" stroke-linecap="round"/>
<path d="M55.9,282.8 C73.1,289.3 95.8,293.6 115.9,293.7" fill="none" stroke="#83868a" stroke-width="1.1" opacity="0.9"/>
<path d="M55.3,285.6 C73.1,292.9 95.8,297.2 116.3,297.0" fill="none" stroke="#707377" stroke-width="1.6"/>
<path d="M54.1,284.0 C73.1,291.0 95.8,295.3 117.3,295.3" fill="none" stroke="#b9bdc1" stroke-width="2.0" stroke-linecap="round"/>
<path d="M57.5,294.3 C73.7,300.6 95.2,304.8 114.2,304.9" fill="none" stroke="#83868a" stroke-width="1.1" opacity="0.9"/>
<path d="M56.9,297.1 C73.7,304.2 95.2,308.4 114.6,308.2" fill="none" stroke="#707377" stroke-width="1.6"/>
<path d="M55.7,295.5 C73.7,302.3 95.2,306.5 115.6,306.5" fill="none" stroke="#b9bdc1" stroke-width="2.0" stroke-linecap="round"/>
<path d="M59.5,307.1 C74.4,313.2 94.5,317.2 112.1,317.3" fill="none" stroke="#83868a" stroke-width="1.1" opacity="0.9"/>
<path d="M58.9,309.9 C74.4,316.8 94.5,320.8 112.5,320.6" fill="none" stroke="#707377" stroke-width="1.6"/>
<path d="M57.7,308.3 C74.4,314.9 94.5,318.9 113.5,318.9" fill="none" stroke="#b9bdc1" stroke-width="2.0" stroke-linecap="round"/>
<path d="M61.6,319.4 C75.2,325.2 93.8,329.1 109.9,329.2" fill="none" stroke="#83868a" stroke-width="1.1" opacity="0.9"/>
<path d="M61.0,322.2 C75.2,328.8 93.8,332.7 110.3,332.5" fill="none" stroke="#707377" stroke-width="1.6"/>
<path d="M59.8,320.6 C75.2,326.9 93.8,330.8 111.3,330.8" fill="none" stroke="#b9bdc1" stroke-width="2.0" stroke-linecap="round"/>
<path d="M63.9,331.8 C76.1,337.4 93.0,341.1 107.5,341.2" fill="none" stroke="#83868a" stroke-width="1.1" opacity="0.9"/>
<path d="M63.3,334.6 C76.1,341.0 93.0,344.7 107.9,344.5" fill="none" stroke="#707377" stroke-width="1.6"/>
<path d="M62.1,333.0 C76.1,339.1 93.0,342.8 108.9,342.8" fill="none" stroke="#b9bdc1" stroke-width="2.0" stroke-linecap="round"/>
<path d="M66.3,343.4 C77.1,348.7 92.2,352.2 105.1,352.3" fill="none" stroke="#83868a" stroke-width="1.1" opacity="0.9"/>
<path d="M65.7,346.2 C77.1,352.3 92.2,355.8 105.5,355.6" fill="none" stroke="#707377" stroke-width="1.6"/>
<path d="M64.5,344.6 C77.1,350.4 92.2,353.9 106.5,353.9" fill="none" stroke="#b9bdc1" stroke-width="2.0" stroke-linecap="round"/>
<path d="M68.9,355.4 C78.1,360.3 91.3,363.7 102.4,363.8" fill="none" stroke="#83868a" stroke-width="1.1" opacity="0.9"/>
<path d="M68.3,358.2 C78.1,363.9 91.3,367.3 102.8,367.1" fill="none" stroke="#707377" stroke-width="1.6"/>
<path d="M67.1,356.6 C78.1,362.0 91.3,365.4 103.8,365.4" fill="none" stroke="#b9bdc1" stroke-width="2.0" stroke-linecap="round"/>
<path d="M71.8,367.4 C79.3,371.6 90.5,374.5 99.7,374.6" fill="none" stroke="#83868a" stroke-width="1.1" opacity="0.9"/>
<path d="M71.2,370.2 C79.3,375.2 90.5,378.1 100.1,377.9" fill="none" stroke="#707377" stroke-width="1.6"/>
<path d="M70.0,368.6 C79.3,373.3 90.5,376.2 101.1,376.2" fill="none" stroke="#b9bdc1" stroke-width="2.0" stroke-linecap="round"/>
<path d="M52.7,266.2 L120.3,266.2 L118.7,280.3 Q86.5,287 54.3,280.3 Z" fill="url(#gCollar)"/>
<path d="M53.2,220 C52.9,240 51.5,250 45.2,260.5 C43.9,263 44.5,265 47.0,266 Q86.5,273.2 126.0,266 C128.5,265 129.1,263 127.8,260.5 C121.5,250 120.1,240 119.8,220 Z" fill="#7f8285"/>
<path d="M114.0,222 C114.3,240 116.0,251 123.0,263.5 L127.8,260.5 C121.5,250 120.1,240 119.8,220 Z" fill="#6d7073"/>
<path d="M65.5,224 L93.8,224 C94.0,245 95.0,255 99.0,264 Q78.5,270 54.0,263.8 C62.5,253 65.0,240 65.5,224 Z" fill="#c8cbce"/>
<path d="M68.7,224 L77.5,224 C77.0,240 75.5,255 71.5,265.8 L58.0,264.6 C65.5,253 68.2,240 68.7,224 Z" fill="#f3f4f5"/>
<ellipse cx="86.5" cy="220.3" rx="33.4" ry="5.3" fill="#8d9093"/>
<ellipse cx="86.5" cy="220.6" rx="28.5" ry="3.5" fill="#777a7d"/>
<path d="M58.0,220.6 A28.5,3.5 0 0 0 115.0,220.6 A28.5,0.9 0 0 1 58.0,220.6 Z" fill="#4c4f52"/>
<g transform="translate(0 -73.9)">
<path d="M43.35,263.6 C40.25,250.60000000000002 35.25,222 34.35,205 C33.85,191 38.75,180.6 46.25,177.4 C50.25,175.7 55.25,175.1 60.25,175.1 C70.25,175.1 78.25,177.8 87.05,177.8 C96.25,177.8 106.25,175.1 116.25,175.1 C124.25,175.1 131.25,180 134.95,189 C137.25,195 138.15,200 138.15,205 C138.15,222 133.25,250.60000000000002 130.15,263.6 C116.25,267.6 100.25,269.2 86.75,269.2 C73.25,269.2 57.25,267.6 43.35,263.6 Z" fill="#ecedef" stroke="#dfe0e3" stroke-width="0.9" stroke-linejoin="round"/>
<path d="M116.25,175.1 C124.25,175.1 131.25,180 134.95,189 C137.25,195 138.15,200 138.15,205 C138.15,222 133.25,250.60000000000002 130.15,263.6 L122.95,265.3 C127.25,247 130.25,228 130.15,215 C130.05,200 126.25,186 116.25,175.1 Z" fill="#dedfe2"/>
<path filter="url(#soft)" d="M56.25,178.6 C66.25,178 76.25,180.6 86.25,180.6 C94.25,180.6 99.25,179 104.25,180 C111.25,183.5 113.75,198 112.55,226 C111.55,247 106.25,260 90.25,262 L64.25,262 C53.25,260 46.25,250 42.75,232 C39.75,214 36.95,198 39.95,189 C42.25,182.3 48.25,179 56.25,178.6 Z" fill="#ffffff"/>
</g>
</g><g transform="translate(835.0 0)">
<use href="#base" transform="translate(86.5 0) scale(1.0075 1) translate(-86.5 0)"/>
<use href="#sock5"/>
<path d="M54.9,279.0 L56.0,287.0 L57.1,295.0 L58.3,303.0 L59.6,311.0 L61.0,319.0 L62.5,327.0 L64.0,335.0 L65.6,343.0 L67.4,351.0 L69.2,359.0 L71.1,367.0 L73.1,375.0 C74.3,381 77.5,383.2 81.5,383.2 L91.5,383.2 C95.5,383.2 98.7,381 99.9,375.0 L99.9,375.0 L101.9,367.0 L103.8,359.0 L105.6,351.0 L107.4,343.0 L109.0,335.0 L110.5,327.0 L112.0,319.0 L113.4,311.0 L114.7,303.0 L115.9,295.0 L117.0,287.0 L118.1,279.0 Z" fill="#85898c"/>
<path d="M60.6,279.0 L61.7,287.0 L62.8,295.0 L64.0,303.0 L65.2,311.0 L66.4,319.0 L67.7,327.0 L69.1,335.0 L70.5,343.0 L72.0,351.0 L73.5,359.0 L75.0,367.0 L76.6,375.0 L78.2,375.0 L77.0,367.0 L75.8,359.0 L74.7,351.0 L73.7,343.0 L72.7,335.0 L71.8,327.0 L71.0,319.0 L70.2,311.0 L69.5,303.0 L68.8,295.0 L68.2,287.0 L67.6,279.0 Z" fill="#c4c7ca"/>
<path d="M67.6,279.0 L68.2,287.0 L68.8,295.0 L69.5,303.0 L70.2,311.0 L71.0,319.0 L71.8,327.0 L72.7,335.0 L73.7,343.0 L74.7,351.0 L75.8,359.0 L77.0,367.0 L78.2,375.0 L84.4,375.0 L83.9,367.0 L83.4,359.0 L82.9,351.0 L82.3,343.0 L81.8,335.0 L81.2,327.0 L80.6,319.0 L80.0,311.0 L79.5,303.0 L78.9,295.0 L78.3,287.0 L77.7,279.0 Z" fill="#f4f5f6"/>
<path d="M77.7,279.0 L78.3,287.0 L78.9,295.0 L79.5,303.0 L80.0,311.0 L80.6,319.0 L81.2,327.0 L81.8,335.0 L82.3,343.0 L82.9,351.0 L83.4,359.0 L83.9,367.0 L84.4,375.0 L94.6,375.0 L95.8,367.0 L97.1,359.0 L98.3,351.0 L99.4,343.0 L100.6,335.0 L101.7,327.0 L102.7,319.0 L103.7,311.0 L104.7,303.0 L105.6,295.0 L106.5,287.0 L107.3,279.0 Z" fill="#cdd0d2"/>
<path d="M107.3,279.0 L106.5,287.0 L105.6,295.0 L104.7,303.0 L103.7,311.0 L102.7,319.0 L101.7,327.0 L100.6,335.0 L99.4,343.0 L98.3,351.0 L97.1,359.0 L95.8,367.0 L94.6,375.0 L98.0,375.0 L99.8,367.0 L101.5,359.0 L103.1,351.0 L104.6,343.0 L106.1,335.0 L107.5,327.0 L108.9,319.0 L110.2,311.0 L111.4,303.0 L112.5,295.0 L113.5,287.0 L114.6,279.0 Z" fill="#8d9093"/>
<path d="M114.6,279.0 L113.5,287.0 L112.5,295.0 L111.4,303.0 L110.2,311.0 L108.9,319.0 L107.5,327.0 L106.1,335.0 L104.6,343.0 L103.1,351.0 L101.5,359.0 L99.8,367.0 L98.0,375.0 L99.9,375.0 L101.9,367.0 L103.8,359.0 L105.6,351.0 L107.4,343.0 L109.0,335.0 L110.5,327.0 L112.0,319.0 L113.4,311.0 L114.7,303.0 L115.9,295.0 L117.0,287.0 L118.1,279.0 Z" fill="#a3a6a9"/>
<path d="M72.6,373 Q86.5,381 99.7,376.5 C98.7,381.5 95.5,383.2 91.5,383.2 L81.5,383.2 C77.5,383.2 73.6,381 72.6,373 Z" fill="#8b8e91"/>
<path d="M77.5,376.2 Q84.5,378.6 91.5,377.8 Q89.5,381 84.0,381 Q79.5,380.6 77.5,376.2 Z" fill="#d6d8da"/>
<path d="M55.4,280 L117.6,280 L117.1,286.5 Q86.5,291 55.9,285 Z" fill="#76797c"/>
<path d="M89.5,286.0 Q104.5,286.2 118.6,286.0" fill="none" stroke="#b9bdc1" stroke-width="1.9" stroke-linecap="round"/>
<path d="M55.9,282.8 C73.1,289.3 95.8,293.6 115.9,293.7" fill="none" stroke="#83868a" stroke-width="1.1" opacity="0.9"/>
<path d="M55.3,285.6 C73.1,292.9 95.8,297.2 116.3,297.0" fill="none" stroke="#707377" stroke-width="1.6"/>
<path d="M54.1,284.0 C73.1,291.0 95.8,295.3 117.3,295.3" fill="none" stroke="#b9bdc1" stroke-width="2.0" stroke-linecap="round"/>
<path d="M57.5,294.3 C73.7,300.6 95.2,304.8 114.2,304.9" fill="none" stroke="#83868a" stroke-width="1.1" opacity="0.9"/>
<path d="M56.9,297.1 C73.7,304.2 95.2,308.4 114.6,308.2" fill="none" stroke="#707377" stroke-width="1.6"/>
<path d="M55.7,295.5 C73.7,302.3 95.2,306.5 115.6,306.5" fill="none" stroke="#b9bdc1" stroke-width="2.0" stroke-linecap="round"/>
<path d="M59.5,307.1 C74.4,313.2 94.5,317.2 112.1,317.3" fill="none" stroke="#83868a" stroke-width="1.1" opacity="0.9"/>
<path d="M58.9,309.9 C74.4,316.8 94.5,320.8 112.5,320.6" fill="none" stroke="#707377" stroke-width="1.6"/>
<path d="M57.7,308.3 C74.4,314.9 94.5,318.9 113.5,318.9" fill="none" stroke="#b9bdc1" stroke-width="2.0" stroke-linecap="round"/>
<path d="M61.6,319.4 C75.2,325.2 93.8,329.1 109.9,329.2" fill="none" stroke="#83868a" stroke-width="1.1" opacity="0.9"/>
<path d="M61.0,322.2 C75.2,328.8 93.8,332.7 110.3,332.5" fill="none" stroke="#707377" stroke-width="1.6"/>
<path d="M59.8,320.6 C75.2,326.9 93.8,330.8 111.3,330.8" fill="none" stroke="#b9bdc1" stroke-width="2.0" stroke-linecap="round"/>
<path d="M63.9,331.8 C76.1,337.4 93.0,341.1 107.5,341.2" fill="none" stroke="#83868a" stroke-width="1.1" opacity="0.9"/>
<path d="M63.3,334.6 C76.1,341.0 93.0,344.7 107.9,344.5" fill="none" stroke="#707377" stroke-width="1.6"/>
<path d="M62.1,333.0 C76.1,339.1 93.0,342.8 108.9,342.8" fill="none" stroke="#b9bdc1" stroke-width="2.0" stroke-linecap="round"/>
<path d="M66.3,343.4 C77.1,348.7 92.2,352.2 105.1,352.3" fill="none" stroke="#83868a" stroke-width="1.1" opacity="0.9"/>
<path d="M65.7,346.2 C77.1,352.3 92.2,355.8 105.5,355.6" fill="none" stroke="#707377" stroke-width="1.6"/>
<path d="M64.5,344.6 C77.1,350.4 92.2,353.9 106.5,353.9" fill="none" stroke="#b9bdc1" stroke-width="2.0" stroke-linecap="round"/>
<path d="M68.9,355.4 C78.1,360.3 91.3,363.7 102.4,363.8" fill="none" stroke="#83868a" stroke-width="1.1" opacity="0.9"/>
<path d="M68.3,358.2 C78.1,363.9 91.3,367.3 102.8,367.1" fill="none" stroke="#707377" stroke-width="1.6"/>
<path d="M67.1,356.6 C78.1,362.0 91.3,365.4 103.8,365.4" fill="none" stroke="#b9bdc1" stroke-width="2.0" stroke-linecap="round"/>
<path d="M71.8,367.4 C79.3,371.6 90.5,374.5 99.7,374.6" fill="none" stroke="#83868a" stroke-width="1.1" opacity="0.9"/>
<path d="M71.2,370.2 C79.3,375.2 90.5,378.1 100.1,377.9" fill="none" stroke="#707377" stroke-width="1.6"/>
<path d="M70.0,368.6 C79.3,373.3 90.5,376.2 101.1,376.2" fill="none" stroke="#b9bdc1" stroke-width="2.0" stroke-linecap="round"/>
<path d="M52.7,266.2 L120.3,266.2 L118.7,280.3 Q86.5,287 54.3,280.3 Z" fill="url(#gCollar)"/>
<g transform="translate(0 0)">
<path d="M45.199999999999996,260.6 C42.099999999999994,247.60000000000002 37.099999999999994,222 36.199999999999996,205 C35.699999999999996,191 40.599999999999994,180.6 48.099999999999994,177.4 C52.099999999999994,175.7 57.099999999999994,175.1 62.099999999999994,175.1 C72.1,175.1 80.1,177.8 88.89999999999999,177.8 C98.1,177.8 108.1,175.1 118.1,175.1 C126.1,175.1 133.1,180 136.8,189 C139.1,195 140.0,200 140.0,205 C140.0,222 135.1,247.60000000000002 132.0,260.6 C118.1,267.6 102.1,269.2 88.6,269.2 C75.1,269.2 59.099999999999994,267.6 45.199999999999996,260.6 Z" fill="#ecedef" stroke="#dfe0e3" stroke-width="0.9" stroke-linejoin="round"/>
<path d="M118.1,175.1 C126.1,175.1 133.1,180 136.8,189 C139.1,195 140.0,200 140.0,205 C140.0,222 135.1,247.60000000000002 132.0,260.6 L124.8,262.3 C129.1,247 132.1,228 132.0,215 C131.89999999999998,200 128.1,186 118.1,175.1 Z" fill="#dedfe2"/>
<path filter="url(#soft)" d="M58.099999999999994,178.6 C68.1,178 78.1,180.6 88.1,180.6 C96.1,180.6 101.1,179 106.1,180 C113.1,183.5 115.6,198 114.39999999999999,226 C113.39999999999999,247 108.1,260 92.1,262 L66.1,262 C55.099999999999994,260 48.099999999999994,250 44.599999999999994,232 C41.599999999999994,214 38.8,198 41.8,189 C44.099999999999994,182.3 50.099999999999994,179 58.099999999999994,178.6 Z" fill="#ffffff"/>
</g>
<path d="M53.1,265.7 Q88.1,273.0 120.7,266.0" fill="none" stroke="#8e9194" stroke-width="1.3"/>
</g>
</svg>
</body>
</html>
